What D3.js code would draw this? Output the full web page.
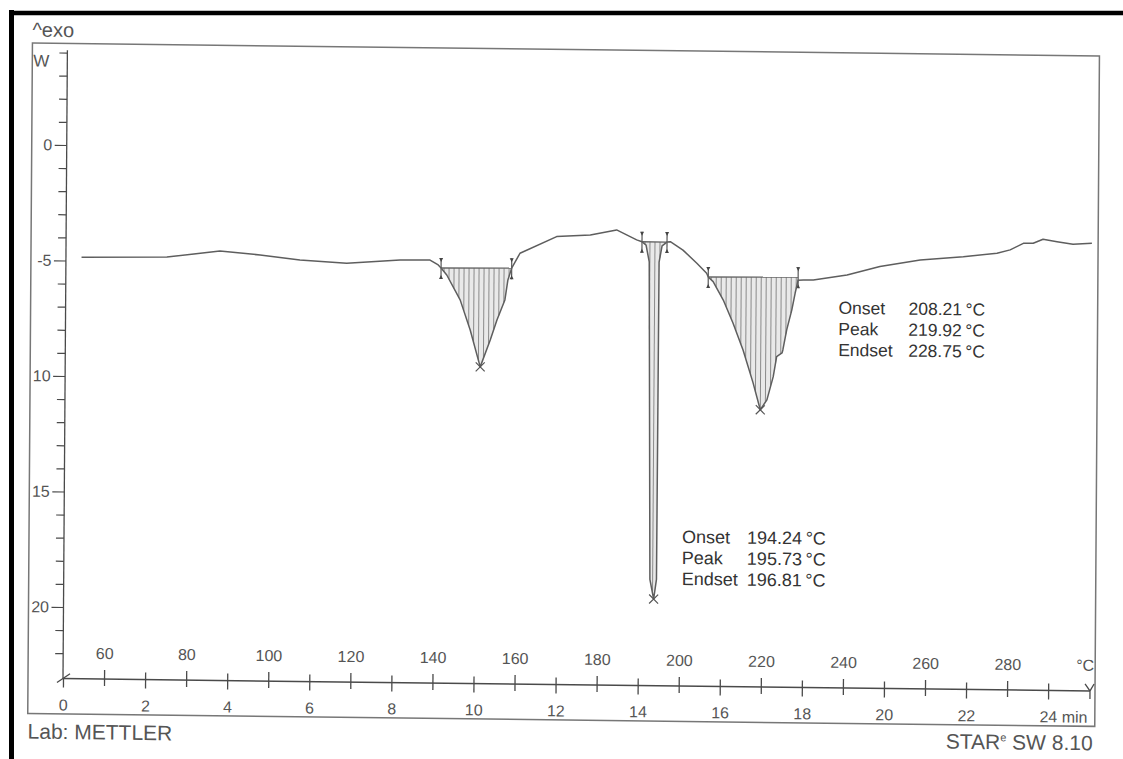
<!DOCTYPE html>
<html>
<head>
<meta charset="utf-8">
<script src="https://cdn.jsdelivr.net/npm/d3@7"></script>
<style>
  body { margin: 0; background: #fff; }
  svg { display: block; }
  text { font-family: "Liberation Sans", Arial, Helvetica, sans-serif; }
</style>
</head>
<body>
<svg id="chart" width="1123" height="759"></svg>
<script>
// DSC trace: time (min) against heat flow (W, exo up)
const timeMin = [0.38, 2.46, 3.75, 4.73, 5.70, 6.84, 8.14, 8.87, 9.07, 9.14, 9.28, 9.61, 9.86, 10.11,
  10.35, 10.51, 10.70, 10.77, 10.86, 11.06, 11.95, 12.77, 13.41, 13.90, 14.03, 14.13, 14.21, 14.28,
  14.374, 14.44, 14.45, 14.52, 14.64, 14.72, 15.03, 15.37, 15.61, 15.65, 15.77, 16.02, 16.26, 16.51,
  16.76, 16.94, 17.10, 17.25, 17.33, 17.46, 17.48, 17.57, 17.69, 17.77, 17.84, 17.97, 18.21, 19.03,
  19.83, 20.81, 21.86, 22.68, 23.00, 23.32, 23.56, 23.80, 24.14, 24.53, 24.99];
const heatFlow = [-4.85, -4.80, -4.51, -4.66, -4.86, -4.97, -4.80, -4.79, -5.00, -5.13, -5.43, -6.50, -7.80, -9.39,
  -8.22, -7.35, -6.48, -5.61, -5.10, -4.45, -3.71, -3.62, -3.39, -3.81, -3.89, -4.03, -4.76, -18.5,
  -19.35, -18.5, -4.76, -4.06, -3.89, -3.87, -4.23, -4.79, -5.22, -5.38, -5.58, -6.37, -7.36, -8.52,
  -9.94, -11.10, -10.67, -9.66, -8.79, -8.63, -8.50, -7.63, -6.77, -6.03, -5.47, -5.46, -5.46, -5.22,
  -4.84, -4.53, -4.37, -4.20, -4.05, -3.76, -3.75, -3.57, -3.67, -3.77, -3.72];

// Evaluated peaks: integration limits (min), baseline heat flow at the limits, peak time
const peakStart = [9.14, 14.03, 15.65];
const peakEnd = [10.86, 14.64, 17.84];
const baseStart = [-5.13, -3.89, -5.38];
const baseEnd = [-5.10, -3.89, -5.34];
const peakTime = [10.11, 14.374, 16.94];

// Results printed next to the evaluated peaks
const resultNames = ["Onset", "Peak", "Endset"];
const resultsSharp = ["194.24\u2009\u00b0C", "195.73\u2009\u00b0C", "196.81\u2009\u00b0C"];
const resultsBroad = ["208.21\u2009\u00b0C", "219.92\u2009\u00b0C", "228.75\u2009\u00b0C"];

// Axis ticks and labels
const yMajor = [0, -5, -10, -15, -20];
const yMajorLabels = ["0", "-5", "10", "15", "20"];
const yMinor = [4, 3, 2, 1, -1, -2, -3, -4, -6, -7, -8, -9, -11, -12, -13, -14, -16, -17, -18, -19, -21, -22];
const timeTicks = [0, 2, 4, 6, 8, 10, 12, 14, 16, 18, 20, 22, 24];
const tempTicks = [60, 80, 100, 120, 140, 160, 180, 200, 220, 240, 260, 280];

const svg = d3.select("#chart");

// scanned-sheet frame (black edges)
svg.append("line").attr("x1", 11.5).attr("x2", 11.5).attr("y1", 10).attr("y2", 759)
  .attr("stroke", "#000").attr("stroke-width", 5);
svg.append("line").attr("x1", 9).attr("x2", 1123).attr("y1", 13).attr("y2", 13)
  .attr("stroke", "#000").attr("stroke-width", 4.5);

// the printout sits slightly skewed on the sheet
const g = svg.append("g").attr("transform", "matrix(1,0.012,-0.007,1,4.746,-0.756)");

const x = d3.scaleLinear().domain([0, 25.02]).range([63, 1090]);
const xTemp = d3.scaleLinear().domain([50, 50 + 10 * 25.02]).range([63, 1090]);
const y = d3.scaleLinear().domain([0, -20]).range([145, 607]);
const yTop = 4.1, yBottom = -23.1;
const curveAt = d3.scaleLinear().domain(timeMin).range(heatFlow);

const ink = "#555";
const axisInk = "#4a4a4a";

// plot frame
g.append("rect").attr("x", 28).attr("y", 43.5).attr("width", 1067).attr("height", 670.5)
  .attr("fill", "none").attr("stroke", "#777").attr("stroke-width", 1.5);

g.append("text").attr("x", 28).attr("y", 37).attr("font-size", 20).attr("fill", ink).text("^exo");
g.append("text").attr("x", 29).attr("y", 67).attr("font-size", 17).attr("fill", ink).text("W");
g.append("text").attr("x", 28).attr("y", 739).attr("font-size", 21).attr("fill", ink).text("Lab: METTLER");
const star = g.append("text").attr("x", 1093).attr("y", 738).attr("font-size", 21)
  .attr("text-anchor", "end").attr("fill", ink);
star.append("tspan").text("STAR");
star.append("tspan").attr("font-size", 11).attr("dy", -8).text("e");
star.append("tspan").attr("dy", 8).text(" SW 8.10");

// y axis
g.append("line").attr("x1", x(0)).attr("x2", x(0)).attr("y1", y(yTop)).attr("y2", y(yBottom))
  .attr("stroke", axisInk).attr("stroke-width", 1.3);
const yMinorAxis = g.append("g").attr("transform", `translate(${x(0)},0)`)
  .call(d3.axisLeft(y).tickValues(yMinor).tickSize(8).tickSizeOuter(0).tickFormat(""));
const yMajorAxis = g.append("g").attr("transform", `translate(${x(0)},0)`)
  .call(d3.axisLeft(y).tickValues(yMajor).tickSize(12).tickSizeOuter(0).tickPadding(2.5)
    .tickFormat((d, i) => yMajorLabels[i]));
[yMinorAxis, yMajorAxis].forEach(a => {
  a.select(".domain").remove();
  a.selectAll("line").attr("stroke", axisInk).attr("stroke-width", 1.2);
  a.selectAll("text").attr("font-size", 16).attr("fill", ink).attr("font-family", null);
});

// x axis: time below, temperature above
const axisY = y(yBottom);
g.append("line").attr("x1", x(0)).attr("x2", x(25.02)).attr("y1", axisY).attr("y2", axisY)
  .attr("stroke", axisInk).attr("stroke-width", 1.5);
const timeAxis = g.append("g").attr("transform", `translate(0,${axisY})`)
  .call(d3.axisBottom(x).tickValues(timeTicks).tickSize(9).tickSizeOuter(0).tickPadding(11.5)
    .tickFormat(d => d));
const tempAxis = g.append("g").attr("transform", `translate(0,${axisY})`)
  .call(d3.axisTop(xTemp).tickValues(tempTicks).tickSize(9).tickSizeOuter(0).tickPadding(11));
[timeAxis, tempAxis].forEach(a => {
  a.select(".domain").remove();
  a.selectAll("line").attr("stroke", axisInk).attr("stroke-width", 1.3);
  a.selectAll("text").attr("font-size", 16).attr("fill", ink).attr("font-family", null);
});
timeAxis.selectAll(".tick line").attr("y1", d => d === 0 ? 0 : -7);
tempAxis.selectAll(".tick line").attr("y1", 7);
// last time label carries the unit
timeAxis.selectAll(".tick text").filter(d => d === 24)
  .attr("text-anchor", "start").attr("x", -9).text("24 min");
g.append("text").attr("x", 1094).attr("y", axisY - 20).attr("text-anchor", "end")
  .attr("font-size", 16).attr("fill", ink).text("\u00b0C");
// start mark and end fork of the abscissa
g.append("line").attr("x1", x(0) - 6).attr("y1", axisY + 4).attr("x2", x(0) + 7).attr("y2", axisY - 5)
  .attr("stroke", axisInk).attr("stroke-width", 1.3);
const xe = x(25.02);
g.append("path").attr("d", `M${xe - 5},${axisY - 7}L${xe},${axisY}L${xe + 4},${axisY - 7}M${xe},${axisY}L${xe},${axisY + 8}`)
  .attr("fill", "none").attr("stroke", axisInk).attr("stroke-width", 1.3);

// evaluated areas: light fill plus vertical hatching
peakStart.forEach((t0, i) => {
  const t1 = peakEnd[i];
  const base = d3.scaleLinear().domain([t0, t1]).range([baseStart[i], baseEnd[i]]);
  const ts = [t0, ...timeMin.filter(t => t > t0 && t < t1), t1];
  g.append("path")
    .datum(ts)
    .attr("d", d3.area().x(t => x(t)).y0(t => y(base(t))).y1(t => y(curveAt(t))))
    .attr("fill", "#e9e9e9").attr("stroke", "none");
  const px0 = x(t0), px1 = x(t1);
  const hatch = d3.range(px0 + 3, px1 - 1, 5).map(px => x.invert(px));
  g.append("g").selectAll("line").data(hatch).join("line")
    .attr("x1", t => x(t)).attr("x2", t => x(t))
    .attr("y1", t => y(base(t))).attr("y2", t => y(curveAt(t)))
    .attr("stroke", "#8a8a8a").attr("stroke-width", 1);
  g.append("line")
    .attr("x1", px0).attr("x2", px1).attr("y1", y(baseStart[i])).attr("y2", y(baseEnd[i]))
    .attr("stroke", "#666").attr("stroke-width", 1.3);
  // limit markers
  [[t0, baseStart[i]], [t1, baseEnd[i]]].forEach(([t, v]) => {
    const cx = x(t), cy = y(v);
    g.append("line").attr("x1", cx).attr("x2", cx).attr("y1", cy - 10).attr("y2", cy + 11)
      .attr("stroke", "#555").attr("stroke-width", 1.2);
    g.append("path")
      .attr("d", `M${cx - 2},${cy - 10}L${cx + 2},${cy - 10}L${cx},${cy - 6}Z M${cx - 2},${cy + 11}L${cx + 2},${cy + 11}L${cx},${cy + 7}Z`)
      .attr("fill", "#444");
  });
});

// heat-flow curve
g.append("path")
  .datum(d3.zip(timeMin, heatFlow))
  .attr("d", d3.line().x(d => x(d[0])).y(d => y(d[1])))
  .attr("fill", "none").attr("stroke", "#5e5e5e").attr("stroke-width", 1.5)
  .attr("stroke-linejoin", "round");

// peak crosses
peakTime.forEach(t => {
  const cx = x(t), cy = y(curveAt(t)), s = 4.5;
  g.append("path").attr("d", `M${cx - s},${cy - s}L${cx + s},${cy + s}M${cx - s},${cy + s}L${cx + s},${cy - s}`)
    .attr("stroke", "#555").attr("stroke-width", 1.2);
});

// result tables
function results(values, px, py, dxName, dxValue, dy, size) {
  resultNames.forEach((n, i) => {
    g.append("text").attr("x", px + dxName).attr("y", py + dy + i * 21)
      .attr("font-size", size).attr("fill", "#333").text(n);
    g.append("text").attr("x", px + dxValue).attr("y", py + dy + i * 21)
      .attr("font-size", size).attr("fill", "#333").text(values[i]);
  });
}
results(resultsSharp, x(peakTime[1]), y(curveAt(peakTime[1])), 28, 93, -56.5, 18);
results(resultsBroad, x(peakTime[2]), y(curveAt(peakTime[2])), 77.5, 147.5, -96.8, 17.5);
</script>
</body>
</html>
